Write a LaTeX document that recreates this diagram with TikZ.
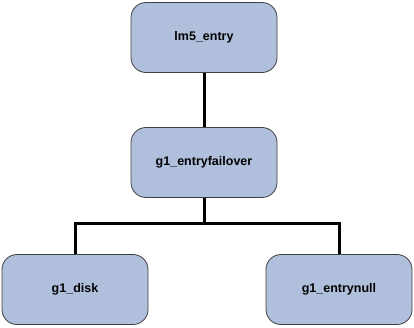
\documentclass[tikz,border=0pt]{standalone}
\usepackage{fontspec}
\setmainfont{Liberation Sans}
\definecolor{boxfill}{HTML}{B0C0DC}
\definecolor{boxedge}{HTML}{404040}
\begin{document}
\begin{tikzpicture}[x=1pt,y=-1pt,
  box/.style={draw=boxedge,fill=boxfill,line width=0.8pt,rounded corners=15pt,minimum width=146pt,minimum height=70pt,inner sep=0pt,font=\bfseries\fontsize{12.5}{14}\selectfont},
  conn/.style={line width=3pt}]
\useasboundingbox (0,0) rectangle (414,327);
\node[box] (top) at (204,37.5) {lm5\_entry};
\node[box] (mid) at (204,162.5) {g1\_entryfailover};
\node[box] (left) at (75,289.5) {g1\_disk};
\node[box] (right) at (339,289.5) {g1\_entrynull};
\coordinate (j) at (204,223);
\draw[conn] (top) -- (mid);
\draw[conn] (mid) -- (j);
\draw[conn] (left.north) |- (j) -| (right.north);
\end{tikzpicture}
\end{document}
